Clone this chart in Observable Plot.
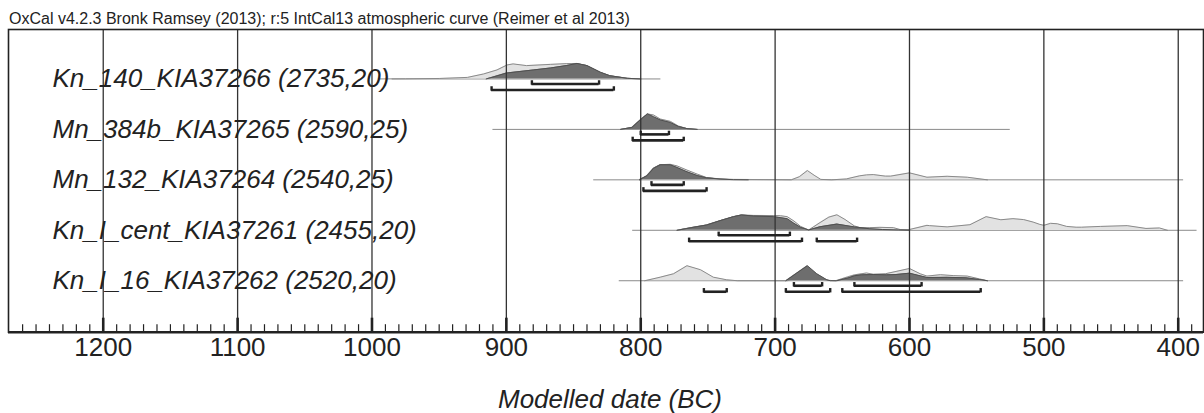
<!DOCTYPE html>
<html>
<head>
<meta charset="utf-8">
<script src="https://cdn.jsdelivr.net/npm/d3@7"></script>
<script src="https://cdn.jsdelivr.net/npm/@observablehq/plot@0.6"></script>
<style>
  body { margin: 0; background: #fff; }
  #hdr { font-family: "Liberation Sans", Arial, sans-serif; font-size: 16px; line-height: 16px;
         height: 17px; padding: 11px 0 0 9px; color: #222; white-space: nowrap; }
  #chart svg { display: block; }
</style>
</head>
<body>
<div id="hdr"></div>
<div id="chart"></div>
<script>
// ---------------- data ----------------
const header = "OxCal v4.2.3 Bronk Ramsey (2013); r:5 IntCal13 atmospheric curve (Reimer et al 2013)";
const axisTitle = "Modelled date (BC)";
const labels = [
  "Kn_140_KIA37266 (2735,20)",
  "Mn_384b_KIA37265 (2590,25)",
  "Mn_132_KIA37264 (2540,25)",
  "Kn_I_cent_KIA37261 (2455,20)",
  "Kn_I_16_KIA37262 (2520,20)"
];
// span of each row's thin base line (years BC)
const rowStart = [985, 910, 835, 806, 816];
const rowEnd   = [785, 525, 396, 386, 396];

// unmodelled (light) distributions: [year BC, relative height]
const likelihood = [
  [[995,0],[975,0.01],[950,0.03],[929,0.10],[917,0.32],[907,0.58],[899.5,0.90],[895,0.97],[885,0.86],[867,0.94],[855,0.99],[847.5,1.0],[840,0.86],[830,0.43],[823,0.21],[810,0.04],[800,0]],
  [[815,0],[806.5,0.13],[800.4,0.61],[795,1.0],[790.5,0.93],[785.5,0.67],[778,0.52],[772,0.22],[765.6,0.05],[758,0]],
  [[801,0],[795.4,0.27],[790.5,0.75],[785.5,0.98],[778,1.0],[773,0.9],[765.6,0.63],[758,0.37],[751,0.15],[741,0.06],[731,0.03],[715,0.02],[700,0.01],[688,0],[682,0.2],[676,0.6],[671,0.3],[666,0.03],[658,0],[647,0.06],[637,0.26],[632,0.32],[627,0.34],[618,0.24],[614,0.24],[600,0.45],[587,0.17],[572,0.23],[557,0.17],[542,0]],
  [[773,0],[761,0.19],[751,0.34],[741,0.62],[731,0.88],[725,0.99],[716,0.96],[701,0.95],[696,0.94],[691,0.88],[686,0.6],[681,0.25],[675,0.02],[666.5,0.5],[660,0.85],[654,1.0],[648,0.7],[641,0.28],[637,0.18],[630,0.17],[622,0.19],[612,0.17],[607,0.05],[600,0.05],[587,0.32],[585,0.3],[572,0.22],[555,0.36],[543,0.88],[532,0.68],[523,0.75],[515,0.69],[508,0.53],[503,0.38],[500,0.32],[495,0.45],[490,0.42],[483,0.25],[476,0.2],[472,0.2],[458,0.25],[438,0.3],[424,0.12],[414,0.15],[408,0]],
  [[797,0],[785.5,0.23],[775.6,0.45],[765.6,0.97],[755.5,0.71],[746,0.23],[736,0.06],[728,0],[691,0],[684,0.2],[676,0.35],[669,0.2],[661,0.03],[655,0],[646,0.25],[641,0.38],[632,0.5],[627,0.42],[618,0.45],[610,0.6],[600,0.79],[592,0.45],[587,0.3],[577,0.39],[567,0.33],[557,0.3],[548,0.12],[542,0]]
];
// modelled (dark) distributions
const posterior = [
  [[915,0],[910,0.12],[900,0.38],[880,0.58],[867,0.71],[855,0.87],[847.5,1.0],[840,0.86],[830,0.43],[823,0.21],[810,0.04],[800,0]],
  [[815,0],[806.5,0.13],[800.4,0.61],[795,1.0],[790.5,0.82],[785.5,0.61],[778,0.45],[772,0.19],[765.6,0.05],[758,0]],
  [[801,0],[795.4,0.26],[790.5,0.74],[785.5,0.97],[778,0.97],[773,0.8],[765.6,0.52],[758,0.28],[751,0.13],[741,0.05],[731,0.01],[720,0]],
  [[773,0],[761,0.19],[751,0.34],[741,0.62],[731,0.88],[725,0.99],[716,0.92],[701,0.88],[691,0.75],[686,0.45],[681,0.19],[675,0.02],[666.5,0.23],[654,0.4],[641,0.22],[630,0.1],[620,0.05],[608,0.02],[600,0]],
  [[692,0],[684,0.49],[676,0.97],[669,0.45],[661.5,0.06],[659,0],[654,0],[645,0.2],[641,0.32],[636,0.38],[627,0.4],[617,0.38],[610,0.4],[600,0.49],[587,0.21],[572,0.22],[558,0.19],[548,0.08],[542,0]]
];
// 68.2% and 95.4% ranges
const range68 = [
  [[881,831]],
  [[800,779]],
  [[792,768]],
  [[742,689]],
  [[686,665],[641,591]]
];
const range95 = [
  [[911,820]],
  [[806,768]],
  [[798,751]],
  [[764,680],[669,639]],
  [[753,736],[692,659],[650,547]]
];
const majorTicks = [1200, 1100, 1000, 900, 800, 700, 600, 500, 400];
const minorTicks = d3.range(1260, 385, -10).filter(d => d % 100 !== 0);

// ---------------- layout constants ----------------
const W = 1204, H = 385;
const xDomain = [1270.5, 381.2];
const yDomain = [-0.98, 5.02];
const yRange = [1, 303.7];
const frameH = yRange[1] - yRange[0];
const unit = frameH / (yDomain[1] - yDomain[0]);
const PEAK = 15.5 / unit;       // max height of a distribution
const INNER = 5 / unit, OUTER = 11 / unit, HOOK = 3.2 / unit;

document.getElementById("hdr").textContent = header;

const lik = likelihood.flatMap((pts, row) => pts.map(([year, h]) => ({row, year, h})));
const post = posterior.flatMap((pts, row) => pts.map(([year, h]) => ({row, year, h})));
const rows = labels.map((label, row) => ({label, row, a: rowStart[row], b: rowEnd[row]}));
const brackets = [
  ...range68.flatMap((rs, row) => rs.map(([a, b]) => ({row, a, b, off: INNER}))),
  ...range95.flatMap((rs, row) => rs.map(([a, b]) => ({row, a, b, off: OUTER})))
];
const hooks = brackets.flatMap(d => [d.a, d.b].map(x => ({x, row: d.row, off: d.off})));

const FONT = "Liberation Sans, Arial, sans-serif";
const ink = "#222";

const chart = Plot.plot({
  width: W, height: H,
  marginLeft: 8, marginRight: 1, marginTop: yRange[0], marginBottom: H - yRange[1],
  style: {fontFamily: FONT, background: "#fff", overflow: "visible"},
  x: {domain: xDomain, axis: null},
  y: {domain: yDomain, range: yRange, axis: null},
  marks: [
    // row base lines
    Plot.ruleY(rows, {y: "row", x1: "a", x2: "b", stroke: "#8a8a8a", strokeWidth: 1}),
    // light (unmodelled) distributions
    Plot.areaY(lik, {x: "year", y1: "row", y2: d => d.row - d.h * PEAK, z: "row", fill: "#e2e2e2"}),
    Plot.lineY(lik, {x: "year", y: d => d.row - d.h * PEAK, z: "row", stroke: "#8a8a8a", strokeWidth: 1}),
    // dark (modelled) distributions
    Plot.areaY(post, {x: "year", y1: "row", y2: d => d.row - d.h * PEAK, z: "row", fill: "#6e6e6e"}),
    Plot.lineY(post, {x: "year", y: d => d.row - d.h * PEAK, z: "row", stroke: "#505050", strokeWidth: 1}),
    // grid lines
    Plot.ruleX(majorTicks, {stroke: "#333", strokeWidth: 1.3}),
    // ranges
    Plot.ruleY(brackets, {y: d => d.row + d.off, x1: "a", x2: "b", stroke: ink, strokeWidth: 2.6}),
    Plot.ruleX(hooks, {x: "x", y1: d => d.row + d.off + 1.2 / unit, y2: d => d.row + d.off - HOOK, stroke: ink, strokeWidth: 2.4}),
    // row labels
    Plot.text(rows, {y: "row", text: "label", frameAnchor: "left", dx: 44, textAnchor: "start",
      fontSize: 26, fontStyle: "italic", fill: ink}),
    // ticks
    Plot.ruleX(minorTicks, {insetTop: frameH - 7.5, stroke: ink, strokeWidth: 1.2}),
    Plot.ruleX(majorTicks, {insetTop: frameH - 14, stroke: ink, strokeWidth: 2.6}),
    // frame and axis line
    Plot.frame({stroke: ink, strokeWidth: 1.6}),
    Plot.ruleY([yDomain[1]], {stroke: ink, strokeWidth: 2.6}),
    // tick labels
    Plot.text(majorTicks, {x: d => d, text: d => String(d), frameAnchor: "bottom", lineAnchor: "top", dy: 5,
      fontSize: 26, fill: ink}),
    // axis title
    Plot.text([axisTitle], {frameAnchor: "bottom", lineAnchor: "top", dy: 57, dx: 4,
      fontSize: 26, fontStyle: "italic", fill: ink})
  ]
});
document.getElementById("chart").appendChild(chart);
</script>
</body>
</html>
